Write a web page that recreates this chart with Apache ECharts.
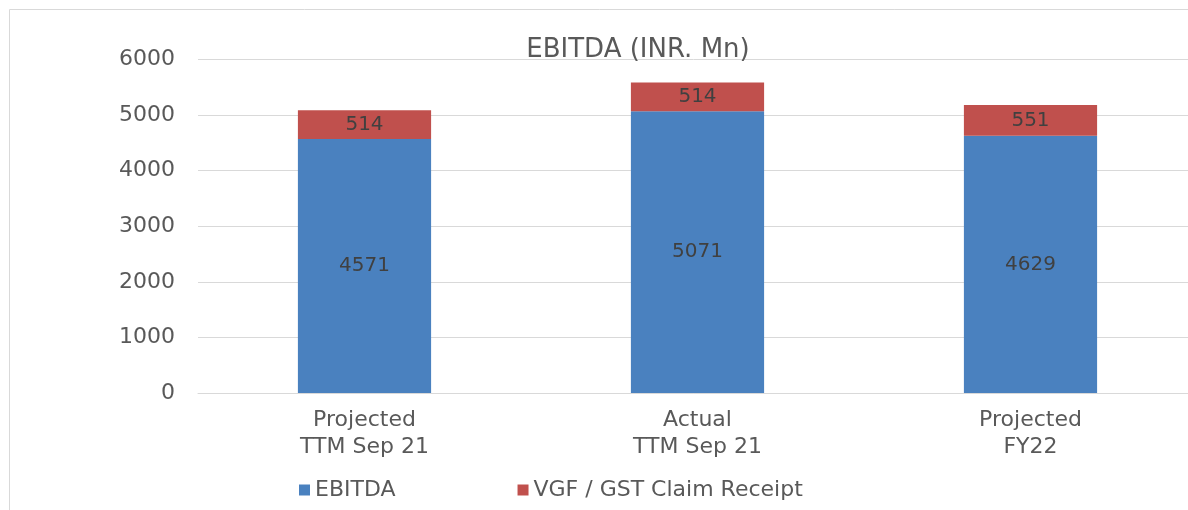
<!DOCTYPE html>
<html>
<head>
<meta charset="utf-8">
<script src="https://cdn.jsdelivr.net/npm/echarts@6/dist/echarts.min.js"></script>
<style>
  html, body { margin: 0; padding: 0; background: #fff; }
  #chart { width: 1188px; height: 510px; }
</style>
</head>
<body>
<div id="chart"></div>
<script>
var categories = ['Projected\nTTM Sep 21', 'Actual\nTTM Sep 21', 'Projected\nFY22'];
var ebitda = [4571, 5071, 4629];
var vgf = [514, 514, 551];
var yTicks = [0, 1000, 2000, 3000, 4000, 5000, 6000];

var font = '"DejaVu Sans", sans-serif';
var chart = echarts.init(document.getElementById('chart'));

var option = {
  animation: false,
  textStyle: { fontFamily: font },
  title: {
    text: 'EBITDA (INR. Mn)',
    left: 633,
    textAlign: 'center',
    top: 32,
    textStyle: { fontSize: 26, fontWeight: 'normal', color: '#595959', fontFamily: font }
  },
  // outer chart frame, only top and left edges fall inside the page
  graphic: [{
    type: 'rect',
    shape: { x: 9.5, y: 9.5, width: 1400, height: 700 },
    style: { fill: 'none', stroke: '#d9d9d9', lineWidth: 1 },
    silent: true
  }],
  legend: {
    left: 299,
    top: 479,
    padding: 0,
    itemWidth: 11,
    itemHeight: 11,
    itemGap: 122,
    icon: 'rect',
    textStyle: { fontSize: 22, color: '#595959', fontFamily: font },
    data: ['EBITDA', 'VGF / GST Claim Receipt']
  },
  grid: { left: 198, top: 59.5, width: 999, height: 333.5, outerBoundsMode: 'none' },
  xAxis: {
    type: 'category',
    data: categories,
    axisTick: { show: false },
    axisLine: { lineStyle: { color: '#d9d9d9', width: 1 } },
    axisLabel: { fontSize: 22, color: '#595959', lineHeight: 27, margin: 14, fontFamily: font }
  },
  yAxis: {
    type: 'value',
    min: yTicks[0],
    max: yTicks[yTicks.length - 1],
    interval: 1000,
    axisLine: { show: false },
    axisTick: { show: false },
    splitLine: { lineStyle: { color: '#d9d9d9', width: 1 } },
    axisLabel: {
      fontSize: 22, color: '#595959', margin: 23, fontFamily: font,
      formatter: function (v) { return String(v); }
    }
  },
  series: [{
    name: 'EBITDA',
    type: 'bar',
    stack: 'total',
    barWidth: '40%',
    data: ebitda,
    itemStyle: { color: '#4a81bf' },
    label: { show: true, position: 'inside', fontSize: 20, color: '#404040', fontFamily: font }
  }, {
    name: 'VGF / GST Claim Receipt',
    type: 'bar',
    stack: 'total',
    barWidth: '40%',
    data: vgf,
    itemStyle: { color: '#c0504d' },
    label: { show: true, position: 'inside', fontSize: 20, color: '#404040', fontFamily: font }
  }]
};

chart.setOption(option);
</script>
</body>
</html>
